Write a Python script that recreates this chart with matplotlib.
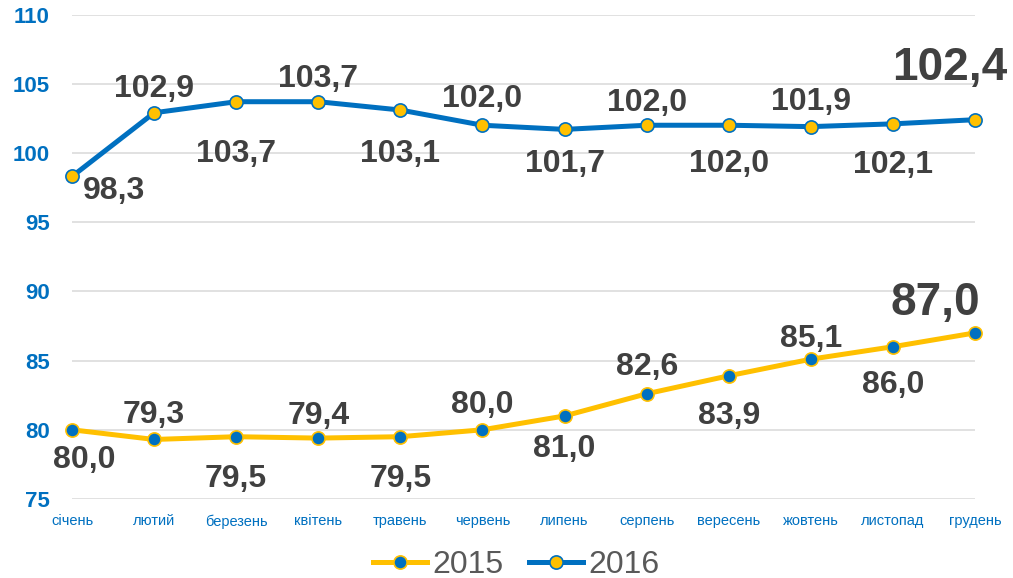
import matplotlib.pyplot as plt
from matplotlib.lines import Line2D

plt.rcParams['font.family'] = ['Liberation Sans', 'DejaVu Sans']

months = ['січень', 'лютий', 'березень', 'квітень', 'травень', 'червень',
          'липень', 'серпень', 'вересень', 'жовтень', 'листопад', 'грудень']
v2015 = [80.0, 79.3, 79.5, 79.4, 79.5, 80.0, 81.0, 82.6, 83.9, 85.1, 86.0, 87.0]
v2016 = [98.3, 102.9, 103.7, 103.7, 103.1, 102.0, 101.7, 102.0, 102.0, 101.9, 102.1, 102.4]

# where the value label goes: a - above, b - below, r - to the right, big - last one
side_2015 = ['b0', 'a', 'b', 'a', 'b', 'a', 'b', 'a', 'b', 'a', 'b', 'big']
side_2016 = ['r', 'a', 'b', 'a', 'b', 'a', 'b', 'a', 'b', 'a', 'b', 'big']
# gap between point and label, px (labels were moved by hand in the original)
gap_2015 = [15, 16, 27, 14, 27, 17, 18, 19, 25, 12, 23, 18]
gap_2016 = [0, 16, 37, 15, 29, 18, 20, 14, 24, 17, 26, 40]

blue = '#0070C0'
yellow = '#FFC000'
dark = '#404040'

fig = plt.figure(figsize=(10.13, 5.78), dpi=100)
ax = fig.add_axes([72 / 1013, 1 - 499 / 578, (975 - 72) / 1013, (499 - 14.5) / 578])

x = list(range(len(months)))
ax.plot(x, v2015, color=yellow, lw=3.6, marker='o', ms=9.5, mfc=blue, mec=yellow,
        mew=1.2, clip_on=False, zorder=3, solid_capstyle='round')
ax.plot(x, v2016, color=blue, lw=3.6, marker='o', ms=9.5, mfc=yellow, mec=blue,
        mew=1.2, clip_on=False, zorder=3, solid_capstyle='round')


def px(p):
    return p * 0.72


def put_labels(vals, sides, gaps):
    for i, (v, s, g) in enumerate(zip(vals, sides, gaps)):
        txt = f'{v:.1f}'.replace('.', ',')
        kw = dict(xy=(i, v), textcoords='offset points', color=dark,
                  fontweight='bold', fontsize=23, annotation_clip=False, zorder=4)
        if s == 'a':
            ax.annotate(txt, xytext=(0, px(g)), ha='center', va='baseline', **kw)
        elif s == 'b':
            ax.annotate(txt, xytext=(0, -px(g)), ha='center', va='top', **kw)
        elif s == 'b0':
            ax.annotate(txt, xytext=(px(12), -px(g)), ha='center', va='top', **kw)
        elif s == 'r':
            ax.annotate(txt, xytext=(px(11), px(g)), ha='left', va='top', **kw)
        elif s == 'big':
            kw['fontsize'] = 33
            dx = 32 if v > 95 else 5
            ax.annotate(txt, xytext=(px(dx), px(g)), ha='right', va='baseline', **kw)


put_labels(v2015, side_2015, gap_2015)
put_labels(v2016, side_2016, gap_2016)

ax.set_xlim(0, 11)
ax.set_ylim(75, 110)
ax.set_yticks(range(75, 111, 5))
ax.set_xticks(x)
ax.set_xticklabels(months)
ax.tick_params(axis='y', length=0, pad=16, labelsize=16, labelcolor=blue)
ax.tick_params(axis='x', length=0, pad=11, labelsize=10.5, labelcolor=blue)
for lab in ax.get_yticklabels():
    lab.set_fontweight('bold')
ax.grid(axis='y', color='#D9D9D9', lw=1.1)
ax.set_axisbelow(True)
for sp in ax.spines.values():
    sp.set_visible(False)

handles = [
    Line2D([], [], color=yellow, lw=3.6, marker='o', ms=9.5, mfc=blue, mec=yellow, mew=1.2),
    Line2D([], [], color=blue, lw=3.6, marker='o', ms=9.5, mfc=yellow, mec=blue, mew=1.2),
]
leg = fig.legend(handles, ['2015', '2016'], loc='center', ncol=2,
                 bbox_to_anchor=(516 / 1013, 1 - 565 / 578), frameon=False,
                 fontsize=23, handlelength=1.7, handletextpad=0.15, columnspacing=0.8)
for t in leg.get_texts():
    t.set_color('#595959')

fig.savefig('out.png', dpi=100)
